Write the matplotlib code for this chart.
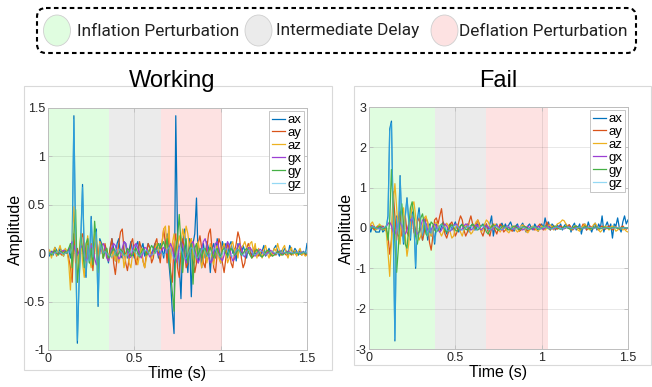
import numpy as np
import matplotlib.pyplot as plt
from matplotlib.patches import FancyBboxPatch, Ellipse, Rectangle
from matplotlib.ticker import FuncFormatter

plt.rcParams['font.family'] = ['Liberation Sans', 'DejaVu Sans']
plt.rcParams['axes.unicode_minus'] = False

# sample times (100 Hz, 0 - 1.5 s)
t = np.round(np.arange(151) * 0.01, 2)

labels = ['ax', 'ay', 'az', 'gx', 'gy', 'gz']
colors = ['#0072BD', '#D95319', '#EDB120', '#9B3FD4', '#45B045', '#4DBEEE']
alphas = [1, 1, 1, 1, 1, 0.6]

phase_names = ['Inflation Perturbation', 'Intermediate Delay', 'Deflation Perturbation']
phase_colors = ['#E0FDE0', '#EBEBEB', '#FDE2E2']
phases_working = [(0, 0.355), (0.355, 0.655), (0.655, 1.01)]
phases_fail = [(0, 0.382), (0.382, 0.68), (0.68, 1.037)]

# ---- Working ----
w_ax = [0.00, -0.03, 0.02, -0.02, 0.06, 0.03, -0.01, 0.05, 0.02, -0.03, 0.04, 0.00, 0.05,
        -0.05, 0.10, 1.42, 0.10, -0.93, -0.30, 0.15, 0.71, 0.00, -0.25, 0.10, -0.10, 0.38, -0.05, 0.10, 0.25, -0.55, 0.15, 0.10, -0.05, 0.08, 0.02, -0.10,
        0.05, 0.15, 0.05, -0.08, 0.10, 0.15, -0.02, -0.05, 0.12, 0.10, -0.05, 0.03, 0.12, 0.02, -0.05, 0.08, 0.12, -0.02, 0.05, 0.10, -0.03, 0.02, 0.10, 0.05, -0.02, 0.05, 0.10, 0.05, -0.05, 0.10,
        0.05, -0.05, 0.10, 0.20, -0.10, -0.30, -0.60, -0.83, 1.42, 0.20, -0.10, -0.47, 0.10, 0.25, 0.00, -0.20, 0.15, -0.45, 0.10, 0.20, 0.57, -0.10, 0.05, -0.15, 0.10,
        -0.05, 0.12, 0.05, -0.20, 0.05, 0.10, -0.05, 0.15, 0.02, -0.10, 0.12, 0.05, 0.10, -0.05, 0.08, 0.12, 0.00, 0.05, -0.08, 0.10,
        0.05, -0.02, 0.08, 0.02, -0.05, 0.06, 0.02, -0.03, 0.05, 0.00, -0.02, 0.03, -0.03, 0.02, 0.08, -0.03, 0.00, 0.05, -0.02, 0.00,
        0.05, 0.08, 0.02, -0.03, 0.03, 0.00, 0.05, 0.02, -0.02, 0.08, 0.03, 0.00, 0.05, 0.02, -0.02, 0.03, 0.00, 0.02, -0.02, 0.10]
w_ay = [0.05, 0.02, -0.02, 0.00, 0.03, -0.03, 0.02, 0.00, -0.02, 0.03, 0.00, 0.02, -0.05,
        -0.15, -0.30, 0.20, -0.10, 0.05, -0.15, 0.15, 0.20, 0.05, -0.10, 0.15, -0.05, 0.10, -0.18, 0.05, 0.15, -0.05, 0.12, 0.05, -0.05, 0.10, 0.00, -0.08,
        0.05, 0.15, -0.10, -0.22, -0.05, 0.10, 0.22, 0.25, 0.05, -0.10, -0.18, -0.05, 0.10, 0.15, 0.00, -0.12, -0.05, 0.12, 0.05, -0.08, -0.15, 0.00, 0.10, 0.05, -0.10, -0.05, 0.10, 0.15, 0.00, -0.10,
        0.10, 0.25, 0.10, -0.10, 0.28, -0.20, -0.30, 0.10, 0.20, -0.15, -0.25, 0.00, 0.15, 0.05, -0.15, -0.10, 0.10, 0.15, -0.05, -0.20, -0.10, 0.10, 0.18, 0.05, -0.10,
        -0.15, 0.05, 0.20, 0.25, 0.05, -0.15, -0.20, 0.00, 0.15, 0.10, -0.10, -0.20, -0.05, 0.10, 0.05, -0.10, -0.15, 0.00, 0.10, 0.22,
        0.15, -0.05, -0.15, -0.10, 0.05, 0.10, 0.05, -0.05, -0.03, 0.05, 0.02, -0.03, 0.00, 0.03, 0.00, -0.02, 0.02, 0.00, -0.03, 0.02,
        0.00, -0.02, 0.02, 0.00, -0.02, 0.01, 0.00, -0.02, 0.02, 0.00, -0.02, 0.01, 0.00, -0.02, 0.01, 0.00, -0.02, 0.01, 0.00, -0.02]
w_az = [-0.02, 0.03, -0.05, 0.02, 0.06, -0.02, 0.03, 0.08, 0.00, -0.03, 0.05, 0.02, -0.10,
        -0.38, 0.10, 0.48, 0.05, -0.30, 0.00, 0.20, -0.10, -0.25, 0.05, 0.18, -0.05, -0.15, 0.05, 0.20, 0.00, -0.10, 0.12, 0.05, -0.05, 0.02, 0.05, -0.05,
        0.00, -0.05, 0.02, -0.08, 0.05, -0.10, -0.02, 0.05, -0.15, -0.05, 0.03, -0.10, -0.15, 0.00, 0.05, -0.05, -0.12, -0.02, 0.05, -0.08, -0.15, -0.05, 0.02, 0.05, -0.05, 0.00, 0.05, 0.10, 0.02, 0.05,
        0.10, 0.25, 0.28, 0.05, 0.28, -0.10, 0.10, 0.20, -0.05, 0.05, 0.18, 0.10, 0.25, 0.15, 0.28, 0.20, 0.05, 0.15, -0.05, -0.10, 0.05, 0.12, 0.00, -0.15, -0.05,
        0.05, -0.10, 0.00, 0.10, -0.05, -0.12, 0.02, 0.08, -0.05, -0.10, 0.05, 0.10, 0.02, -0.10, -0.05, 0.08, 0.12, 0.02, 0.05, -0.05,
        0.10, 0.05, 0.08, 0.12, 0.05, 0.00, 0.10, 0.12, 0.02, 0.10, -0.05, 0.05, 0.00, -0.05, 0.03, 0.08, 0.00, -0.05, 0.02, -0.03,
        0.05, 0.02, 0.10, 0.03, -0.02, 0.05, 0.08, 0.00, -0.05, 0.02, 0.06, -0.02, 0.03, -0.03, 0.02, 0.05, -0.02, 0.00, -0.03, -0.02]
w_gx = [0.00, 0.00, 0.01, 0.02, 0.01, 0.00, -0.01, 0.00, 0.02, 0.03, 0.02, 0.00, 0.02,
        0.08, 0.12, 0.08, 0.02, -0.02, 0.02, 0.08, 0.05, -0.02, -0.08, -0.05, 0.02, 0.08, 0.05, -0.05, -0.12, -0.08, 0.00, 0.08, 0.10, 0.05, -0.05, -0.08,
        -0.02, 0.06, 0.10, 0.08, 0.00, -0.06, -0.04, 0.05, 0.12, 0.10, 0.02, -0.05, -0.04, 0.03, 0.08, 0.10, 0.05, -0.02, -0.05, 0.00, 0.06, 0.05, 0.00, -0.04, -0.02, 0.03, 0.05, 0.02, -0.02, 0.00,
        0.03, 0.06, 0.04, 0.00, 0.05, 0.10, 0.05, -0.05, -0.10, -0.05, 0.05, 0.12, 0.08, -0.02, -0.10, -0.08, 0.02, 0.10, 0.12, 0.05, -0.05, -0.10, -0.05, 0.05, 0.12,
        0.15, 0.08, -0.03, -0.10, -0.08, 0.02, 0.10, 0.12, 0.05, -0.05, -0.08, -0.02, 0.06, 0.12, 0.08, -0.02, -0.08, -0.06, 0.02, 0.08,
        0.10, 0.05, -0.02, -0.04, 0.00, 0.05, 0.06, 0.03, -0.02, -0.03, 0.00, 0.03, 0.04, 0.02, -0.01, -0.02, 0.00, 0.02, 0.03, 0.01,
        -0.01, 0.00, 0.02, 0.02, 0.00, -0.01, 0.00, 0.01, 0.02, 0.01, 0.00, 0.00, 0.01, 0.01, 0.00, 0.00, 0.01, 0.01, 0.00, 0.00]
w_gy = [0.02, 0.00, -0.02, 0.01, 0.03, 0.00, -0.02, 0.02, 0.01, -0.01, 0.02, 0.00, 0.05,
        0.10, -0.15, 0.20, 0.45, -0.30, -0.10, 0.20, 0.05, -0.15, 0.10, 0.15, -0.10, 0.05, -0.12, 0.33, 0.10, -0.20, 0.05, 0.10, -0.05, 0.02, 0.05, -0.05,
        -0.03, 0.02, 0.05, 0.02, -0.03, 0.00, 0.04, 0.02, -0.02, 0.00, 0.05, 0.03, -0.03, -0.02, 0.03, 0.05, 0.00, -0.04, 0.00, 0.05, 0.03, -0.02, 0.00, 0.04, 0.08, 0.05, 0.00, 0.05, 0.10, 0.05,
        0.08, 0.12, 0.05, 0.15, -0.05, -0.20, -0.40, -0.60, 0.05, 0.15, 0.40, 0.10, -0.20, 0.05, 0.15, -0.10, 0.05, 0.10, -0.32, 0.05, 0.10, -0.05, 0.05, -0.05, 0.03,
        0.05, -0.03, 0.02, 0.06, 0.00, -0.05, 0.02, 0.05, 0.00, -0.04, 0.03, 0.05, 0.00, -0.03, 0.02, 0.05, 0.02, -0.02, 0.00, 0.04,
        0.02, -0.02, 0.00, 0.03, 0.05, 0.02, -0.02, -0.05, -0.02, 0.02, 0.04, 0.01, -0.02, -0.04, -0.02, 0.01, 0.03, 0.02, -0.01, -0.03,
        -0.02, 0.00, 0.02, 0.01, -0.01, -0.02, 0.00, 0.01, 0.01, 0.00, -0.01, 0.00, 0.01, 0.00, 0.00, -0.01, 0.00, 0.01, 0.00, 0.00]
w_gz = [0.00, 0.01, 0.00, -0.01, 0.00, 0.01, 0.02, 0.01, 0.00, -0.01, 0.00, 0.01, 0.02,
        0.00, 0.05, 1.38, 0.12, -0.90, -0.28, 0.12, 0.68, 0.02, -0.22, 0.08, -0.08, 0.35, -0.04, 0.08, 0.22, -0.52, 0.10, 0.05, 0.00, 0.02, 0.00, -0.02,
        -0.03, -0.04, -0.02, 0.01, 0.03, 0.04, 0.02, 0.00, -0.02, -0.03, -0.02, 0.00, 0.02, 0.03, 0.02, 0.00, -0.02, -0.03, -0.01, 0.01, 0.03, 0.03, 0.01, -0.01, -0.02, -0.01, 0.01, 0.03, 0.04, 0.02,
        0.00, -0.02, 0.00, 0.04, 0.06, 0.03, -0.02, -0.06, -0.04, 0.02, 0.06, 0.05, 0.00, -0.05, -0.06, -0.02, 0.03, 0.06, 0.04, -0.01, -0.05, -0.04, 0.00, 0.04, 0.05,
        0.02, -0.02, -0.04, -0.02, 0.02, 0.05, 0.04, 0.00, -0.03, -0.04, -0.01, 0.03, 0.05, 0.03, -0.01, -0.03, -0.03, 0.00, 0.03, 0.04,
        0.02, -0.01, -0.03, -0.02, 0.01, 0.03, 0.03, 0.01, -0.01, -0.02, -0.01, 0.01, 0.02, 0.02, 0.00, -0.01, -0.01, 0.00, 0.01, 0.02,
        0.01, 0.00, -0.01, 0.00, 0.01, 0.01, 0.01, 0.00, 0.00, 0.01, 0.01, 0.00, 0.00, 0.01, 0.01, 0.00, 0.00, 0.01, 0.01, 0.00]

# ---- Fail ----
f_ax = [0.05, -0.10, 0.05, 0.00, -0.10, -0.10, -0.10, 0.05, -0.10, -0.05, 0.00,
        0.30, 2.45, 2.65, 0.20, -2.80, 0.30, -0.20, 1.30, 0.10, -0.40, 0.30, 0.75, 0.20, -0.30, 0.40, 0.20, -1.00, 0.20, 0.50, 0.00, -0.30, 0.20, 0.10, -0.30, 0.10, -0.20, 0.05, -0.40,
        0.10, 0.05, -0.10, 0.05, 0.15, 0.00, -0.15, 0.05, 0.10, -0.05, 0.05, 0.15, 0.00, -0.10, 0.05, 0.10, -0.05, 0.00, 0.10, -0.10,
        0.05, 0.10, 0.00, -0.05, 0.10, 0.05, 0.05, 0.10, -0.05, 0.10,
        -0.05, 0.10, 0.30, -0.20, 0.05, 0.10, -0.05, 0.05, 0.12, 0.00, 0.10, -0.05, 0.08, 0.15, 0.02, -0.08, 0.05, 0.10, -0.05, 0.05,
        0.12, 0.00, -0.10, 0.05, 0.10, 0.00, -0.05, 0.10, 0.02, -0.08, 0.05, 0.10, 0.00, 0.25, 0.05, 0.15,
        -0.05, 0.10, 0.05, -0.05, 0.08, 0.02, 0.10, -0.05, 0.05, 0.10, 0.00, 0.08, -0.10, 0.05, 0.12, -0.05, 0.00, 0.10, -0.15, 0.05,
        0.10, -0.05, 0.15, 0.00, -0.10, 0.05, 0.12, -0.05, 0.10, 0.00, 0.30, -0.10, 0.05, 0.15, 0.00, 0.10, -0.25, 0.10, 0.05, 0.25,
        0.00, -0.10, 0.15, 0.30, 0.10, 0.20]
f_ay = [0.05, 0.08, 0.02, -0.05, 0.00, 0.05, 0.02, -0.03, 0.05, 0.00, -0.05,
        -0.20, -0.65, -0.30, 0.90, 0.30, -0.30, 0.20, 0.40, -0.20, 0.10, 0.30, -0.10, -0.20, 0.20, 0.30, -0.10, -0.20, 0.15, 0.25, 0.00, -0.30, -0.10, 0.25, 0.15, -0.35, -0.55, -0.20, 0.20,
        0.25, 0.10, 0.30, 0.48, 0.10, -0.15, -0.25, -0.10, 0.10, 0.15, 0.00, -0.20, -0.10, 0.15, 0.30, 0.20, -0.05, -0.20, -0.10, 0.15,
        0.30, 0.10, -0.05, 0.05, 0.20, 0.10, -0.10, -0.20, -0.05, 0.10,
        -0.10, -0.20, 0.00, 0.10, -0.05, -0.15, 0.00, 0.10, 0.05, -0.10, -0.05, 0.05, 0.02, -0.05, -0.08, 0.00, 0.05, 0.00, -0.08, -0.05,
        0.03, 0.05, -0.02, -0.08, -0.03, 0.03, 0.00, -0.05, -0.02, 0.05, 0.10, 0.05, -0.05, 0.00, 0.15, 0.05,
        -0.05, 0.02, 0.05, 0.00, -0.03, 0.02, 0.05, 0.02, -0.02, 0.00, 0.05, 0.08, 0.02, -0.05, 0.00, 0.05, 0.02, -0.03, 0.00, 0.10,
        0.05, -0.05, 0.00, 0.05, 0.02, -0.02, 0.03, 0.00, -0.05, 0.02, 0.05, 0.00, -0.03, 0.02, 0.05, 0.00, -0.05, 0.00, 0.03, 0.00,
        -0.03, 0.02, 0.05, 0.00, -0.03, 0.00]
f_az = [0.00, 0.10, 0.15, 0.05, -0.05, 0.00, 0.10, 0.05, -0.05, 0.00, -0.10,
        -0.60, -1.20, -0.30, 0.60, 1.10, 0.50, -0.10, -0.40, 0.30, 0.50, -0.20, -0.70, -0.40, 0.20, 0.55, 0.65, 0.30, -0.10, -0.30, -0.20, 0.05, 0.25, 0.30, 0.10, -0.10, -0.20, 0.00, 0.10,
        0.15, 0.05, -0.10, -0.20, -0.10, 0.05, 0.12, 0.05, -0.10, -0.25, -0.20, 0.00, 0.10, 0.05, -0.10, -0.20, -0.05, 0.05, 0.10, -0.05,
        -0.15, -0.10, 0.05, 0.15, 0.20, 0.05, -0.10, -0.05, 0.10, 0.20,
        0.15, 0.05, -0.05, 0.00, 0.10, 0.05, -0.05, -0.10, -0.02, 0.05, 0.00, -0.08, -0.12, -0.05, 0.05, 0.02, -0.05, -0.10, -0.05, 0.05,
        0.08, 0.00, -0.08, -0.12, -0.05, 0.02, 0.05, 0.00, -0.05, -0.08, 0.00, 0.05, 0.02, -0.05, 0.00, 0.05,
        0.08, 0.02, -0.05, 0.00, 0.10, 0.12, 0.15, 0.20, 0.18, 0.10, 0.05, 0.00, -0.05, 0.00, 0.05, 0.02, -0.05, -0.08, 0.00, 0.05,
        0.10, 0.05, -0.02, -0.05, 0.00, 0.08, 0.12, 0.05, -0.05, -0.10, -0.05, 0.02, 0.05, 0.00, -0.05, 0.02, 0.05, 0.00, -0.08, -0.05,
        0.02, 0.00, -0.05, -0.03, -0.08, -0.10]
f_gx = [0.00, 0.02, 0.05, 0.03, 0.00, -0.02, 0.00, 0.03, 0.02, 0.00, 0.05,
        0.10, 0.15, 0.05, -0.10, -0.15, -0.05, 0.10, 0.15, 0.05, -0.10, -0.15, -0.05, 0.10, 0.20, 0.25, 0.10, -0.05, -0.15, -0.10, 0.05, 0.20, 0.22, 0.10, -0.05, -0.10, -0.05, 0.05, 0.10,
        0.05, -0.05, -0.10, -0.05, 0.05, 0.10, 0.05, -0.05, -0.08, -0.02, 0.05, 0.10, 0.08, 0.00, -0.05, -0.03, 0.05, 0.10, 0.08, 0.00,
        -0.05, -0.02, 0.05, 0.08, 0.05, -0.02, -0.05, 0.00, 0.05, 0.05,
        0.02, -0.03, -0.05, 0.00, 0.05, 0.06, 0.02, -0.03, -0.05, -0.01, 0.03, 0.05, 0.02, -0.02, -0.04, -0.01, 0.02, 0.04, 0.02, -0.02,
        -0.05, -0.02, 0.02, 0.04, 0.01, -0.02, -0.03, 0.00, 0.03, 0.04, 0.01, -0.02, -0.03, 0.00, 0.03, 0.03,
        0.00, -0.02, -0.02, 0.01, 0.03, 0.02, 0.00, -0.02, -0.01, 0.01, 0.03, 0.02, 0.00, -0.02, -0.01, 0.01, 0.02, 0.01, -0.01, -0.02,
        0.00, 0.02, 0.02, 0.00, -0.01, -0.01, 0.01, 0.02, 0.01, -0.01, -0.01, 0.00, 0.01, 0.01, 0.00, -0.01, 0.00, 0.01, 0.01, 0.00,
        -0.01, 0.00, 0.01, 0.00, 0.00, 0.00]
f_gy = [0.05, 0.02, 0.00, 0.03, -0.02, 0.00, 0.05, 0.02, -0.03, 0.00, 0.05,
        -0.30, 0.20, 1.45, 0.60, -0.40, -1.10, -0.50, 0.30, 0.60, 0.10, -0.40, -0.50, 0.00, 0.50, 0.65, 0.30, -0.20, -0.40, -0.10, 0.25, 0.35, 0.10, -0.15, -0.20, 0.00, 0.15, 0.10, -0.05,
        -0.10, -0.05, 0.05, 0.10, 0.05, -0.05, -0.10, -0.05, 0.05, 0.08, 0.02, -0.05, -0.08, -0.02, 0.05, 0.08, 0.03, -0.03, -0.05, 0.00,
        0.05, 0.10, 0.05, -0.02, -0.05, 0.00, 0.05, 0.08, 0.02, -0.10,
        -0.15, -0.05, 0.05, 0.08, 0.03, -0.03, -0.06, -0.02, 0.03, 0.05, 0.02, -0.02, -0.05, -0.03, 0.02, 0.05, 0.03, -0.01, -0.04, -0.02,
        0.02, 0.04, 0.02, -0.01, -0.03, -0.01, 0.02, 0.03, 0.01, -0.02, -0.03, 0.00, 0.03, 0.05, 0.02, -0.02,
        -0.03, 0.00, 0.03, 0.05, 0.02, -0.02, -0.03, 0.00, 0.03, 0.04, 0.01, -0.02, -0.03, 0.00, 0.03, 0.05, 0.02, -0.02, -0.03, 0.00,
        0.03, 0.03, 0.00, -0.02, -0.02, 0.01, 0.03, 0.02, -0.01, -0.02, 0.00, 0.02, 0.02, 0.00, -0.02, -0.01, 0.01, 0.02, 0.01, -0.01,
        -0.01, 0.00, 0.01, 0.01, 0.00, 0.00]
f_gz = [0.00, 0.02, 0.03, 0.02, 0.00, -0.02, -0.03, -0.02, 0.00, 0.02, 0.03,
        0.25, 2.40, 2.60, 0.25, -2.75, 0.25, -0.15, 1.25, 0.10, -0.35, 0.25, 0.70, 0.20, -0.25, 0.35, 0.15, -0.95, 0.15, 0.40, 0.05, -0.20, 0.15, 0.05, -0.20, 0.05, -0.15, 0.00, -0.35,
        -0.10, 0.00, 0.05, 0.08, 0.05, 0.00, -0.05, -0.08, -0.05, 0.00, 0.05, 0.07, 0.05, 0.00, -0.04, -0.06, -0.03, 0.01, 0.04, 0.05,
        0.03, -0.01, -0.04, -0.05, -0.02, 0.02, 0.04, 0.05, 0.02, -0.02,
        -0.04, -0.04, -0.01, 0.02, 0.04, 0.03, 0.00, -0.03, -0.04, -0.02, 0.01, 0.03, 0.04, 0.02, -0.01, -0.03, -0.03, -0.01, 0.02, 0.03,
        0.02, 0.00, -0.02, -0.03, -0.01, 0.01, 0.03, 0.02, 0.00, -0.02, -0.02, 0.00, 0.02, 0.03, 0.01, -0.01,
        -0.02, -0.02, 0.00, 0.02, 0.02, 0.01, -0.01, -0.02, -0.01, 0.01, 0.02, 0.02, 0.00, -0.01, -0.02, 0.00, 0.01, 0.02, 0.01, -0.01,
        -0.01, 0.00, 0.01, 0.02, 0.01, 0.00, -0.01, 0.00, 0.01, 0.01, 0.00, -0.01, 0.00, 0.01, 0.01, 0.00, 0.00, 0.00, 0.01, 0.01,
        0.00, 0.00, 0.00, 0.01, 0.00, 0.00]

working = [w_ax, w_ay, w_az, w_gx, w_gy, w_gz]
fail = [f_ax, f_ay, f_az, f_gx, f_gy, f_gz]

W, H = 652, 387
fig = plt.figure(figsize=(W / 100, H / 100), dpi=100)

# background layer in pixel coordinates for the legend box, frames and titles
bg = fig.add_axes([0, 0, 1, 1], zorder=-1)
bg.set_xlim(0, W)
bg.set_ylim(H, 0)
bg.axis('off')

bg.add_patch(FancyBboxPatch((37, 8), 599, 45, boxstyle='round,pad=0,rounding_size=9',
                            fill=False, ec='black', lw=1.5, ls=(0, (2.2, 1.6))))
for cx, tx, name, col in zip([57, 258.5, 444.5], [77, 276, 459], phase_names, phase_colors):
    bg.add_patch(Ellipse((cx, 30.5), 27, 31, fc=col, ec='#cfcfcf', lw=0.6))
    bg.text(tx, 31, name, ha='left', va='center', fontsize=12.4, family='Roboto', color='#222222')

bg.add_patch(Rectangle((24, 86), 308, 284, fill=False, ec='#d9d9d9', lw=0.8))
bg.add_patch(Rectangle((354, 86), 297, 279, fill=False, ec='#d9d9d9', lw=0.8))
bg.text(172, 87, 'Working', ha='center', va='baseline', fontsize=17, zorder=5)
bg.text(498, 87, 'Fail', ha='center', va='baseline', fontsize=17, zorder=5)

fmt = FuncFormatter(lambda v, p: f'{v:g}')


def draw(ax, series, phases, ylim, yticks):
    for (a, b), c in zip(phases, phase_colors):
        ax.axvspan(a, b, color=c, lw=0, zorder=0.2)
    for y, lab, col, al in zip(series, labels, colors, alphas):
        ax.plot(t, y, color=col, lw=0.9, label=lab, alpha=al)
    ax.set_xlim(0, 1.5)
    ax.set_ylim(*ylim)
    ax.set_xticks([0, 0.5, 1, 1.5])
    ax.set_yticks(yticks)
    ax.xaxis.set_major_formatter(fmt)
    ax.yaxis.set_major_formatter(fmt)
    ax.set_axisbelow(True)
    ax.grid(True, color='#262626', alpha=0.12, lw=0.6)
    for s in ax.spines.values():
        s.set_color('#bdbdbd')
        s.set_linewidth(0.7)
    ax.tick_params(direction='in', length=3, width=0.6, color='#bdbdbd', labelsize=9,
                   labelcolor='#262626', top=True, right=True, pad=2)
    ax.set_xlabel('Time (s)', fontsize=11.5, labelpad=1)
    ax.set_ylabel('Amplitude', fontsize=11.5, labelpad=1)
    leg = ax.legend(loc='upper right', fontsize=9.5, handlelength=1.0, handletextpad=0.15,
                    labelspacing=0.05, borderpad=0.2, borderaxespad=0.25, fancybox=False,
                    framealpha=1, edgecolor='#bdbdbd')
    leg.get_frame().set_linewidth(0.6)


axL = fig.add_axes([48 / W, 1 - 350 / H, 259 / W, 242 / H])
draw(axL, working, phases_working, (-1, 1.5), [-1, -0.5, 0, 0.5, 1, 1.5])
axR = fig.add_axes([369 / W, 1 - 349 / H, 259 / W, 242 / H])
draw(axR, fail, phases_fail, (-3, 3), [-3, -2, -1, 0, 1, 2, 3])

fig.savefig('out.png', dpi=100)
